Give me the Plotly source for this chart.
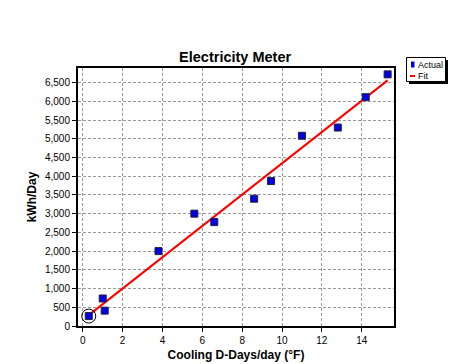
import plotly.graph_objects as go

# Data
actual_x = [0.3, 1.0, 1.1, 3.8, 5.6, 6.6, 8.6, 9.45, 11.0, 12.8, 14.2, 15.3]
actual_y = [265, 735, 410, 2000, 3000, 2775, 3400, 3870, 5080, 5300, 6110, 6720]
fit_x = [0.3, 15.3]
fit_y = [290, 6560]
highlight_x = [0.3]
highlight_y = [265]
legend_labels = ["Actual", "Fit"]

y_ticks = list(range(0, 7000, 500))
x_ticks = list(range(0, 16, 2))

W, H = 461, 364
L, R, T, B = 78, 67, 68, 38
PW, PH = W - L - R, H - T - B


def px(x):
    return (x - L) / PW


def py(y):
    return (H - B - y) / PH


fig = go.Figure()
fig.add_trace(go.Scatter(
    x=fit_x, y=fit_y, mode="lines", name="Fit",
    line=dict(color="#ff0000", width=2)))
fig.add_trace(go.Scatter(
    x=actual_x, y=actual_y, mode="markers", name="Actual",
    marker=dict(symbol="square", size=7, color="#0000e0",
                line=dict(color="#202040", width=1))))
fig.add_trace(go.Scatter(
    x=highlight_x, y=highlight_y, mode="markers",
    marker=dict(symbol="circle-open", size=14, color="#000000",
                line=dict(width=1))))

shapes = [
    # legend shadow and box
    dict(type="rect", xref="paper", yref="paper",
         x0=px(409), x1=px(448), y0=py(84), y1=py(60),
         fillcolor="#000000", line=dict(width=0)),
    dict(type="rect", xref="paper", yref="paper",
         x0=px(406.5), x1=px(445.5), y0=py(81.5), y1=py(57.5),
         fillcolor="#ffffff", line=dict(color="#000000", width=1)),
    # legend symbols
    dict(type="rect", xref="paper", yref="paper",
         x0=px(411), x1=px(414.5), y0=py(67.5), y1=py(61.5),
         fillcolor="#0000e0", line=dict(width=0)),
    dict(type="line", xref="paper", yref="paper",
         x0=px(410), x1=px(415), y0=py(76), y1=py(76),
         line=dict(color="#ff0000", width=2)),
]
annotations = [
    dict(text=legend_labels[0], xref="paper", yref="paper", x=px(416), y=py(64.5),
         xanchor="left", yanchor="middle", showarrow=False, font=dict(size=9)),
    dict(text=legend_labels[1], xref="paper", yref="paper", x=px(416), y=py(76),
         xanchor="left", yanchor="middle", showarrow=False, font=dict(size=9)),
]

fig.update_layout(
    width=W, height=H,
    margin=dict(l=L, r=R, t=T, b=B, autoexpand=False),
    paper_bgcolor="white", plot_bgcolor="white",
    showlegend=False,
    shapes=shapes, annotations=annotations,
    font=dict(family="Liberation Sans, Arial, sans-serif", size=10, color="#000000"),
    title=dict(text="<b>Electricity Meter</b>", x=0.51, xanchor="center",
               y=1 - 57 / H, yanchor="middle",
               font=dict(size=14.5, color="#000000")),
    xaxis=dict(range=[-0.24, 15.62], tickvals=x_ticks, ticks="outside",
               ticklen=4, tickcolor="#000", showline=True, linecolor="#000",
               linewidth=2, mirror=True, showgrid=True, automargin=False,
               gridcolor="#999999", griddash="3px,2px", gridwidth=1, zeroline=False,
               title=dict(text="<b>Cooling D-Days/day (°F)</b>", standoff=6,
                          font=dict(size=12))),
    yaxis=dict(range=[0, 6890], tickvals=y_ticks, tickformat=",d",
               ticks="outside", ticklen=4, tickcolor="#000", automargin=False,
               showline=True, linecolor="#000", linewidth=2, mirror=True,
               showgrid=True, gridcolor="#999999", griddash="3px,2px",
               gridwidth=1, zeroline=False,
               title=dict(text="<b>kWh/Day</b>", standoff=6,
                          font=dict(size=12))),
)

fig.write_html("out.html",
               config={"displayModeBar": False},
               post_script="document.body.style.margin='0';document.body.style.padding='0';")
